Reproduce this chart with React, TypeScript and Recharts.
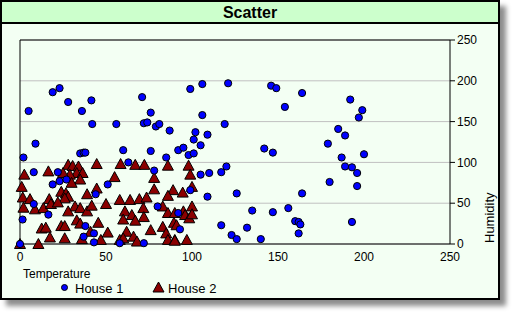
import { ScatterChart, Scatter, XAxis, YAxis, CartesianGrid, ReferenceLine } from "recharts";

const house1Temp = [
  2, 5, 9, 19, 23, 28, 36, 41.5, 42, 35, 37, 38, 56, 60, 71, 76, 72, 74, 79, 81,
  87, 76, 85, 92, 99, 106, 121, 146, 149, 164, 154, 106, 119, 102, 101, 109, 105, 95, 98, 101,
  142, 147, 185, 189, 179, 187, 192, 199, 197, 200, 189, 193, 196, 196, 193, 180, 105, 110, 117, 120,
  99, 109, 126, 164, 135, 147, 156, 92, 160, 162, 163, 117, 132, 93, 123, 126, 140, 162, 8, 22,
  63, 78, 23, 19, 27, 51, 44, 8, 16.5, 1.5, 80, 38, 43, 37, 43, 58, 72, 0,
];
const house1Humidity = [
  106, 163, 123, 186, 191, 174, 163, 176, 147, 111, 112, 112, 147, 115, 180, 161, 148, 149, 144, 147,
  139, 114, 106, 115, 190, 196, 197, 194, 191, 185, 168, 158, 147, 137, 128, 134, 121, 118, 109, 111,
  117, 112, 141, 133, 123, 106, 177, 164, 155, 110, 95, 94, 87, 71, 27, 76, 85, 87, 88, 95,
  66, 58, 62, 62, 41, 39, 44, 38, 28, 27, 24, 23, 20, 18, 11, 6, 6, 13, 88, 88,
  100, 90, 77, 73, 79, 73, 61, 49, 36, 30, 46, 22, 13, 9, 2, 1, 1, 0,
];

const house2Temp = [
  28, 30.6, 34, 33, 36.4, 35, 29, 25, 44.6, 58.5, 67, 72.3, 86, 2.5, 16.5, 55, 78, 1, 44.6, 24,
  26.7, 28, 26, 30, 39, 1.6, 5.8, 2, 8.7, 13.6, 17, 18, 22, 32, 35, 39, 41.7, 50, 58, 64,
  69.4, 73.6, 78, 89, 28, 61, 65, 71.7, 72, 83, 86, 90, 33, 35, 45.5, 60, 67, 62, 12.6, 15,
  24, 26, 41, 51, 76, 83, 85, 17.4, 26, 36, 47, 58, 60, 66, 68, 86, 90, 10.7, 0, 98,
  99, 94.6, 100, 95, 100, 96, 98.4, 100, 89.5, 91, 90, 97, 86,
];
const house2Humidity = [
  97, 95.6, 95, 87, 87, 79, 85, 87, 98, 98, 97, 97, 96, 85, 89, 82, 81, 70, 68, 64,
  62, 58, 56, 75, 61, 57, 55, 44.5, 42.5, 44, 55, 49, 51, 46, 44, 40, 47, 49, 54, 54,
  55, 57, 67, 66, 40, 40, 35.5, 44, 33, 46, 38, 38, 29, 25, 26, 30, 28.6, 15, 19, 20,
  22, 22, 15, 14, 17, 21, 13, 8, 7, 6, 5, 5, 7, 9, 3, 5, 5, 0, 0, 96,
  85, 63, 70, 40, 46, 35.5, 31.5, 36.4, 26, 23, 4, 5, 59,
];

const axisTicks = [0, 50, 100, 150, 200, 250];

const house1 = house1Temp.map((t, i) => ({ x: t, y: house1Humidity[i] }));
const house2 = house2Temp.map((t, i) => ({ x: t, y: house2Humidity[i] }));

const FONT = "Arial, 'Liberation Sans', sans-serif";

const Dot = (p: any) => <circle cx={p.cx} cy={p.cy} r={3.6} fill="#0000ff" stroke="#000" strokeWidth={1} />;
const Tri = (p: any) => (
  <polygon
    points={`${p.cx},${p.cy - 5.5} ${p.cx - 5.5},${p.cy + 4.5} ${p.cx + 5.5},${p.cy + 4.5}`}
    fill="#8b0000"
    stroke="#000"
    strokeWidth={1}
  />
);

export default function App() {
  return (
    <div style={{ position: "absolute", left: 0, top: 0, width: 515, height: 315, fontFamily: FONT }}>
      <div
        style={{
          position: "absolute",
          left: 0,
          top: 0,
          width: 500,
          height: 300,
          boxSizing: "border-box",
          border: "2px solid #000",
          background: "#f3fff3",
          boxShadow: "6px 6px 5px rgba(0,0,0,0.45)",
        }}
      >
        <div
          style={{
            height: 20,
            background: "#ccffcc",
            borderBottom: "2px solid #000",
            textAlign: "center",
            fontWeight: "bold",
            fontSize: 16,
            lineHeight: "22px",
          }}
        >
          Scatter
        </div>
      </div>
      <div style={{ position: "absolute", left: 0, top: 0 }}>
        <ScatterChart width={500} height={300} margin={{ top: 40, left: 20, right: 0, bottom: 36 }}>
          <CartesianGrid horizontal vertical={false} stroke="#c0c0c0" />
          <XAxis
            type="number"
            dataKey="x"
            domain={[0, 250]}
            ticks={axisTicks}
            height={20}
            tickLine={false}
            axisLine={{ stroke: "#000" }}
            tick={{ fill: "#000", fontSize: 12, fontFamily: FONT }}
            label={(props: any) => {
              const vb = props.viewBox;
              return (
                <text x={vb.x + 3} y={vb.y + 34} fontSize={12} fill="#000" fontFamily={FONT}>
                  Temperature
                </text>
              );
            }}
          />
          <YAxis
            type="number"
            dataKey="y"
            orientation="right"
            domain={[0, 250]}
            ticks={axisTicks}
            width={50}
            tickSize={5}
            tickMargin={2}
            tickLine={{ stroke: "#000" }}
            axisLine={{ stroke: "#000" }}
            tick={{ fill: "#000", fontSize: 12, fontFamily: FONT }}
            label={(props: any) => {
              const vb = props.viewBox;
              const lx = vb.x + 44;
              const ly = vb.y + vb.height - 1;
              return (
                <text x={lx} y={ly} fontSize={13} fill="#000" fontFamily={FONT} transform={`rotate(-90 ${lx} ${ly})`}>
                  Humidity
                </text>
              );
            }}
          />
          <ReferenceLine y={250} stroke="#000" />
          <ReferenceLine x={0} stroke="#000" />
          <Scatter name="House 2" data={house2} shape={Tri} isAnimationActive={false} />
          <Scatter name="House 1" data={house1} shape={Dot} isAnimationActive={false} />
        </ScatterChart>
      </div>
      <div style={{ position: "absolute", left: 0, top: 278, width: 300, height: 20 }}>
        <svg width={300} height={20} style={{ position: "absolute", left: 0, top: 0 }}>
          <circle cx={64.5} cy={9.5} r={3} fill="#0000ff" stroke="#000" />
          <polygon points="158.5,4 153,14 164,14" fill="#8b0000" stroke="#000" />
          <text x={75} y={14.5} fontSize={13} fontFamily={FONT} fill="#000">House 1</text>
          <text x={168} y={14.5} fontSize={13} fontFamily={FONT} fill="#000">House 2</text>
        </svg>
      </div>
    </div>
  );
}
